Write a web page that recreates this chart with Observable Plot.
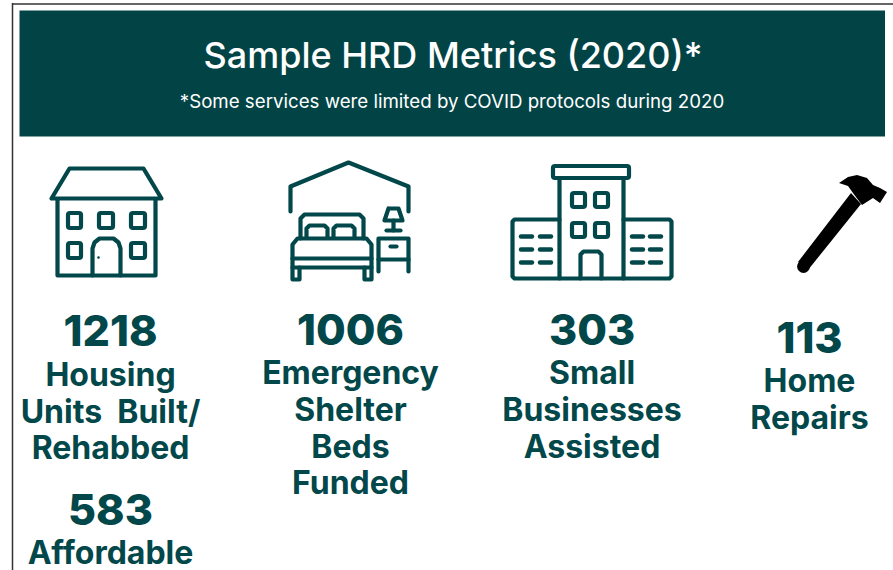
<!DOCTYPE html>
<html>
<head>
<meta charset="utf-8">
<script src="https://cdn.jsdelivr.net/npm/d3@7"></script>
<script src="https://cdn.jsdelivr.net/npm/@observablehq/plot@0.6"></script>
<style>
html,body{margin:0;padding:0;background:#fff;overflow:hidden}
svg{display:block}
</style>
</head>
<body>
<div id="chart"></div>
<script>
// ---- content ----
const chartTitle = "Sample HRD Metrics (2020)*";
const chartNote = "*Some services were limited by COVID protocols during 2020";
const metricValues = [1218, 1006, 303, 113, 583];
const metricLabels = [
  ["Housing", "Units  Built/", "Rehabbed"],
  ["Emergency", "Shelter", "Beds", "Funded"],
  ["Small", "Businesses", "Assisted"],
  ["Home", "Repairs"],
  ["Affordable"]
];

// ---- layout (separate from the content above) ----
const W = 893, H = 570;
const TEAL = "#02474a";
const blockX = [110, 350, 591.5, 809, 110];
const numberBase = [345, 344, 344, 352, 524];
const labelBase = [[385, 422, 458], [383, 420, 457, 493], [383, 420, 457], [391, 428], [563]];

const numbers = metricValues.map((v, i) => ({t: String(v), x: blockX[i], y: numberBase[i]}));
const labels = metricLabels.flatMap((ls, i) => ls.map((t, j) => ({t, x: blockX[i], y: labelBase[i][j]})));

// icon outlines, in the chart's own coordinate system
const paths = {
  houseRoof: [[51,198],[69,168],[143,168],[161,198],[51,198]],
  houseWalls: [[57,199],[57,275],[155,275],[155,199]],
  houseDoor: [[92,275],[92,248],[94,242],[99,238],[113,238],[118,242],[120,248],[120,275]],
  bedRoof: [[290,211],[290,186],[348,162],[408,186],[408,211]],
  headboard: [[300,238],[300,218],[304,214],[359,214],[363,218],[363,238]],
  pillowL: [[306,237],[306,228],[309,225],[324,225],[327,228],[327,237]],
  pillowR: [[333,237],[333,228],[336,225],[351,225],[354,228],[354,237]],
  mattress: [[292,267],[292,244],[297,238],[366,238],[371,244],[371,267],[292,267]],
  mattressLine: [[292,258],[371,258]],
  legL: [[292,267],[292,279],[299,279],[299,267]],
  legR: [[371,267],[371,279],[364,279],[364,267]],
  nightstand: [[378,271],[378,238],[408,238],[408,271]],
  standLine: [[378,259],[408,259]],
  standKnob: [[390,246],[396,246]],
  shade: [[388,208],[398,208],[402,220],[384,220],[388,208]],
  lampStem: [[393,220],[393,230]],
  lampBase: [[386,230],[400,230]],
  tower: [[559,179],[559,278],[623,278],[623,179]],
  towerDoor: [[580,278],[580,254],[583,251],[598,251],[601,254],[601,278]],
  wingL: [[559,219],[514,219],[512,221],[512,276],[514,278],[559,278]],
  wingR: [[623,219],[669,219],[671,221],[671,276],[669,278],[623,278]]
};
const pathRows = Object.entries(paths).flatMap(([id, pts]) => pts.map(([x, y]) => ({id, x, y})));

const boxes = [
  // house windows
  [68,213,81,228],[99,213,113,228],[131,213,145,228],[68,243,81,258],[131,243,145,258],
  // tower cap and windows
  [553,166,629,178],[572,193,585,207],[595,193,608,207],[572,223,585,237],[595,223,608,237]
].map(([x1,y1,x2,y2]) => ({x1,y1,x2,y2}));

const dashRows = [236, 249, 262].flatMap(y =>
  [[521,532],[540,551],[632,643],[650,661]].map(([x1,x2]) => ({x1,x2,y})));

// hammer: ribbons between two edges, with a round butt on the handle
const hammerHead = [
  {x1:839,y1:183,x2:839,y2:183},
  {x1:848,y1:177,x2:848,y2:186},
  {x1:857,y1:175,x2:853,y2:193},
  {x1:867,y1:178,x2:862,y2:205},
  {x1:873,y1:185,x2:873,y2:198},
  {x1:880,y1:188,x2:880,y2:203},
  {x1:887,y1:192,x2:887,y2:192}
];
const hammerHandle = [
  {x1:798,y1:262,x2:808,y2:270},
  {x1:851,y1:193,x2:861,y2:204}
];

const plot = Plot.plot({
  width: W, height: H, margin: 0,
  x: {domain: [0, W], range: [0, W], axis: null},
  y: {domain: [0, H], range: [0, H], axis: null},
  style: {background: "#fff", fontFamily: "Inter, 'Open Sans', sans-serif"},
  marks: [
    // frame
    Plot.ruleX([12], {y1: 3, y2: H, stroke: "#333", strokeWidth: 1.5}),
    Plot.ruleY([3.5], {x1: 12, x2: W, stroke: "#333", strokeWidth: 1.5}),
    // banner
    Plot.rect([{x1: 19.5, x2: 885, y1: 10.5, y2: 136.5}], {x1: "x1", x2: "x2", y1: "y1", y2: "y2", fill: "#024446"}),
    Plot.text([chartTitle], {x: () => 452.5, y: () => 67, text: d => d, lineAnchor: "bottom", fill: "#fff", fontSize: 36, fontWeight: 500}),
    Plot.text([chartNote], {x: () => 451.5, y: () => 107, text: d => d, lineAnchor: "bottom", fill: "#fff", fontSize: 18.7, fontWeight: 400}),
    // icons
    Plot.line(pathRows, {x: "x", y: "y", z: "id", stroke: TEAL, strokeWidth: 4.2, strokeLinejoin: "round", strokeLinecap: "round"}),
    Plot.rect(boxes, {x1: "x1", x2: "x2", y1: "y1", y2: "y2", stroke: TEAL, strokeWidth: 4.2, fill: "none", rx: 2}),
    Plot.ruleY(dashRows, {x1: "x1", x2: "x2", y: "y", stroke: TEAL, strokeWidth: 4.4, strokeLinecap: "round"}),
    Plot.dot([{x: 98, y: 257}], {x: "x", y: "y", r: 1.3, fill: TEAL}),
    // hammer
    Plot.area(hammerHandle, {x1: "x1", y1: "y1", x2: "x2", y2: "y2", fill: "#000"}),
    Plot.dot([{x: 803, y: 266}], {x: "x", y: "y", r: 6.4, fill: "#000"}),
    Plot.area(hammerHead, {x1: "x1", y1: "y1", x2: "x2", y2: "y2", fill: "#000"}),
    // text
    Plot.text(numbers, {x: "x", y: "y", text: "t", lineAnchor: "bottom", fill: TEAL, fontSize: 43, fontWeight: 800}),
    Plot.text(labels, {x: "x", y: "y", text: "t", lineAnchor: "bottom", fill: TEAL, fontSize: 32, fontWeight: 700})
  ]
});
document.getElementById("chart").append(plot);
</script>
</body>
</html>
